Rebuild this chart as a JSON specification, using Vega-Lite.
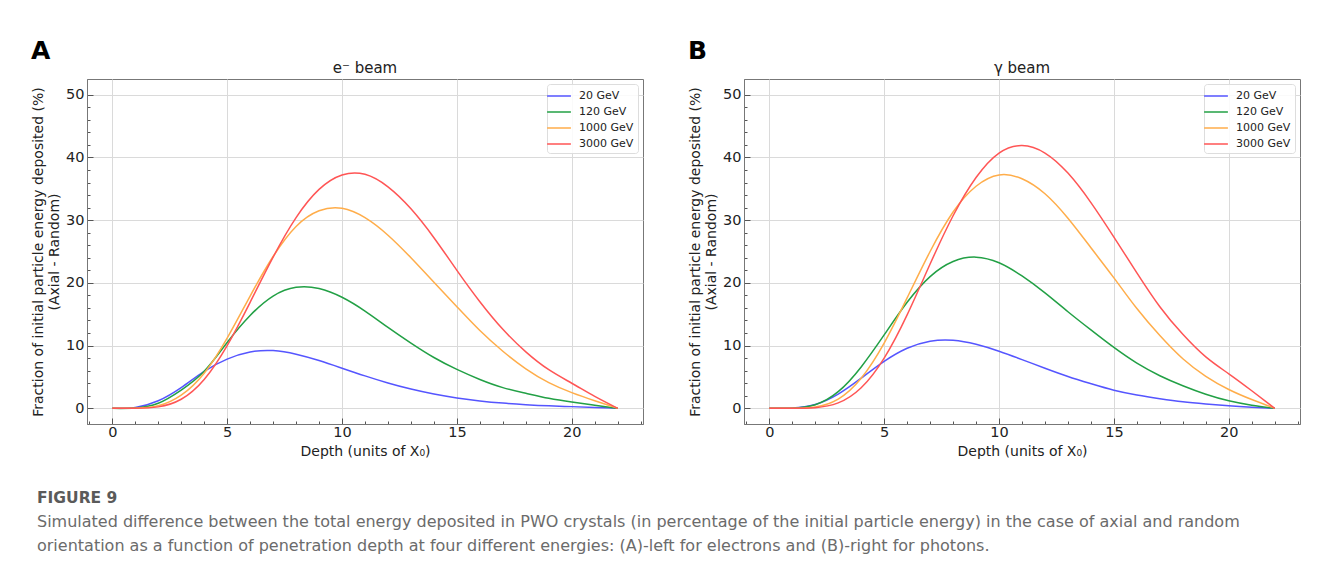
{
  "$schema": "https://vega.github.io/schema/vega-lite/v6.json",
  "background": "white",
  "padding": {"left": 31, "top": 38, "right": 0, "bottom": 0},
  "config": {
    "font": "DejaVu Sans",
    "view": {"stroke": "#777", "strokeWidth": 1},
    "axis": {
      "labelFontSize": 14.5,
      "labelColor": "#222",
      "titleFontSize": 14,
      "titleFontWeight": "normal",
      "titleColor": "#222",
      "gridColor": "#dadada",
      "gridWidth": 1,
      "tickColor": "#555",
      "domainColor": "#777",
      "labelPadding": 9,
      "labelOverlap": false,
      "labelFlush": false
    },
    "axisX": {"labelPadding": 7, "titlePadding": 3},
    "axisY": {"titlePadding": 4},
    "legend": {
      "orient": "top-right",
      "offset": 5,
      "symbolType": "M-1.7,0L1.7,0",
      "symbolSize": 196,
      "symbolStrokeWidth": 1.5,
      "labelFontSize": 11,
      "labelColor": "#222",
      "labelOffset": 12,
      "fillColor": "rgba(255,255,255,0.85)",
      "strokeColor": "#dddddd",
      "cornerRadius": 3,
      "padding": 4,
      "rowPadding": 3
    }
  },
  "vconcat": [
    {
      "hconcat": [
        {
          "title": {"text": "A", "anchor": "start", "frame": "bounds", "fontSize": 25, "fontWeight": "bold", "color": "#000", "offset": -3},
          "vconcat": [
            {
              "title": {"text": "e⁻ beam", "fontSize": 15, "fontWeight": "normal", "color": "#222", "offset": 3},
              "width": 556,
              "height": 345,
              "data": {
                "values": [
                  {"depth": 0, "20 GeV": 0, "120 GeV": 0, "1000 GeV": 0, "3000 GeV": 0},
                  {"depth": 1, "20 GeV": 0.14, "120 GeV": 0.05, "1000 GeV": 0.02, "3000 GeV": 0.01},
                  {"depth": 2, "20 GeV": 1.2, "120 GeV": 0.8, "1000 GeV": 0.4, "3000 GeV": 0.23},
                  {"depth": 3, "20 GeV": 3.3, "120 GeV": 2.9, "1000 GeV": 2.1, "3000 GeV": 1.45},
                  {"depth": 4, "20 GeV": 5.9, "120 GeV": 5.9, "1000 GeV": 5.6, "3000 GeV": 4.6},
                  {"depth": 5, "20 GeV": 7.85, "120 GeV": 10.5, "1000 GeV": 11.2, "3000 GeV": 10.0},
                  {"depth": 6, "20 GeV": 8.98, "120 GeV": 14.8, "1000 GeV": 17.9, "3000 GeV": 16.9},
                  {"depth": 7, "20 GeV": 9.2, "120 GeV": 17.9, "1000 GeV": 24.2, "3000 GeV": 24.1},
                  {"depth": 8, "20 GeV": 8.63, "120 GeV": 19.3, "1000 GeV": 29.0, "3000 GeV": 30.4},
                  {"depth": 9, "20 GeV": 7.62, "120 GeV": 19.1, "1000 GeV": 31.5, "3000 GeV": 34.9},
                  {"depth": 10, "20 GeV": 6.4, "120 GeV": 17.7, "1000 GeV": 31.9, "3000 GeV": 37.2},
                  {"depth": 11, "20 GeV": 5.17, "120 GeV": 15.5, "1000 GeV": 30.4, "3000 GeV": 37.3},
                  {"depth": 12, "20 GeV": 4.04, "120 GeV": 12.9, "1000 GeV": 27.6, "3000 GeV": 35.3},
                  {"depth": 13, "20 GeV": 3.07, "120 GeV": 10.4, "1000 GeV": 24.0, "3000 GeV": 31.8},
                  {"depth": 14, "20 GeV": 2.28, "120 GeV": 8.1, "1000 GeV": 20.1, "3000 GeV": 27.2},
                  {"depth": 15, "20 GeV": 1.66, "120 GeV": 6.2, "1000 GeV": 16.2, "3000 GeV": 22.0},
                  {"depth": 16, "20 GeV": 1.18, "120 GeV": 4.6, "1000 GeV": 12.4, "3000 GeV": 17.0},
                  {"depth": 17, "20 GeV": 0.83, "120 GeV": 3.3, "1000 GeV": 9.1, "3000 GeV": 12.6},
                  {"depth": 18, "20 GeV": 0.58, "120 GeV": 2.4, "1000 GeV": 6.3, "3000 GeV": 9.0},
                  {"depth": 19, "20 GeV": 0.39, "120 GeV": 1.6, "1000 GeV": 4.1, "3000 GeV": 6.15},
                  {"depth": 20, "20 GeV": 0.27, "120 GeV": 1.0, "1000 GeV": 2.5, "3000 GeV": 4.0},
                  {"depth": 21, "20 GeV": 0.15, "120 GeV": 0.5, "1000 GeV": 1.2, "3000 GeV": 1.9},
                  {"depth": 22, "20 GeV": 0, "120 GeV": 0, "1000 GeV": 0, "3000 GeV": 0}
                ]
              },
              "transform": [{"fold": ["20 GeV", "120 GeV", "1000 GeV", "3000 GeV"], "as": ["energy", "fraction"]}],
              "mark": {"type": "line", "interpolate": "natural", "strokeWidth": 1.5, "clip": true},
              "encoding": {
                "x": {
                  "field": "depth", "type": "quantitative",
                  "scale": {"domain": [-1.1, 23.1], "nice": false, "zero": false},
                  "axis": {
                    "title": "Depth (units of X₀)",
                    "values": [-1, 0, 1, 2, 3, 4, 5, 6, 7, 8, 9, 10, 11, 12, 13, 14, 15, 16, 17, 18, 19, 20, 21, 22, 23],
                    "labelExpr": "datum.value % 5 === 0 ? datum.label : ''",
                    "tickSize": {"condition": {"test": "datum.value % 5 === 0", "value": -6}, "value": -3},
                    "gridOpacity": {"condition": {"test": "datum.value % 5 === 0", "value": 1}, "value": 0}
                  }
                },
                "y": {
                  "field": "fraction", "type": "quantitative",
                  "scale": {"domain": [-2.5, 52.5], "nice": false, "zero": false},
                  "axis": {
                    "title": ["Fraction of initial particle energy deposited (%)", "(Axial - Random)"],
                    "titleLineHeight": 16,
                    "values": [0, 2, 4, 6, 8, 10, 12, 14, 16, 18, 20, 22, 24, 26, 28, 30, 32, 34, 36, 38, 40, 42, 44, 46, 48, 50],
                    "labelExpr": "datum.value % 10 === 0 ? datum.label : ''",
                    "tickSize": {"condition": {"test": "datum.value % 10 === 0", "value": -6}, "value": -3},
                    "gridOpacity": {"condition": {"test": "datum.value % 10 === 0", "value": 1}, "value": 0}
                  }
                },
                "color": {
                  "field": "energy", "type": "nominal",
                  "scale": {"domain": ["20 GeV", "120 GeV", "1000 GeV", "3000 GeV"], "range": ["#5555ff", "#22a045", "#ffad4a", "#ff5555"]},
                  "legend": {"title": null}
                }
              }
            }
          ],
          "resolve": {"legend": {"color": "independent"}, "scale": {"color": "independent"}}
        },
        {
          "title": {"text": "B", "anchor": "start", "frame": "bounds", "fontSize": 25, "fontWeight": "bold", "color": "#000", "offset": -3},
          "vconcat": [
            {
              "title": {"text": "γ beam", "fontSize": 15, "fontWeight": "normal", "color": "#222", "offset": 3},
              "width": 556,
              "height": 345,
              "data": {
                "values": [
                  {"depth": 0, "20 GeV": 0, "120 GeV": 0, "1000 GeV": 0, "3000 GeV": 0},
                  {"depth": 1, "20 GeV": 0.04, "120 GeV": 0.03, "1000 GeV": 0.01, "3000 GeV": 0.0},
                  {"depth": 2, "20 GeV": 0.61, "120 GeV": 0.58, "1000 GeV": 0.22, "3000 GeV": 0.1},
                  {"depth": 3, "20 GeV": 2.26, "120 GeV": 2.65, "1000 GeV": 1.48, "3000 GeV": 0.86},
                  {"depth": 4, "20 GeV": 4.8, "120 GeV": 6.6, "1000 GeV": 4.8, "3000 GeV": 3.27},
                  {"depth": 5, "20 GeV": 7.48, "120 GeV": 11.7, "1000 GeV": 10.4, "3000 GeV": 8.0},
                  {"depth": 6, "20 GeV": 9.57, "120 GeV": 16.9, "1000 GeV": 17.6, "3000 GeV": 14.9},
                  {"depth": 7, "20 GeV": 10.7, "120 GeV": 21.0, "1000 GeV": 25.0, "3000 GeV": 23.0},
                  {"depth": 8, "20 GeV": 10.85, "120 GeV": 23.4, "1000 GeV": 31.3, "3000 GeV": 30.7},
                  {"depth": 9, "20 GeV": 10.2, "120 GeV": 24.1, "1000 GeV": 35.4, "3000 GeV": 36.8},
                  {"depth": 10, "20 GeV": 9.1, "120 GeV": 23.2, "1000 GeV": 37.2, "3000 GeV": 40.7},
                  {"depth": 11, "20 GeV": 7.77, "120 GeV": 21.1, "1000 GeV": 36.6, "3000 GeV": 41.9},
                  {"depth": 12, "20 GeV": 6.38, "120 GeV": 18.4, "1000 GeV": 34.2, "3000 GeV": 40.7},
                  {"depth": 13, "20 GeV": 5.07, "120 GeV": 15.4, "1000 GeV": 30.3, "3000 GeV": 37.5},
                  {"depth": 14, "20 GeV": 3.93, "120 GeV": 12.5, "1000 GeV": 25.6, "3000 GeV": 32.8},
                  {"depth": 15, "20 GeV": 2.89, "120 GeV": 9.7, "1000 GeV": 20.8, "3000 GeV": 27.3},
                  {"depth": 16, "20 GeV": 2.13, "120 GeV": 7.2, "1000 GeV": 15.9, "3000 GeV": 21.6},
                  {"depth": 17, "20 GeV": 1.54, "120 GeV": 5.2, "1000 GeV": 11.6, "3000 GeV": 16.2},
                  {"depth": 18, "20 GeV": 1.04, "120 GeV": 3.6, "1000 GeV": 7.9, "3000 GeV": 11.8},
                  {"depth": 19, "20 GeV": 0.69, "120 GeV": 2.25, "1000 GeV": 5.1, "3000 GeV": 8.2},
                  {"depth": 20, "20 GeV": 0.4, "120 GeV": 1.2, "1000 GeV": 3.0, "3000 GeV": 5.5},
                  {"depth": 21, "20 GeV": 0.18, "120 GeV": 0.5, "1000 GeV": 1.4, "3000 GeV": 2.8},
                  {"depth": 22, "20 GeV": 0, "120 GeV": 0, "1000 GeV": 0, "3000 GeV": 0}
                ]
              },
              "transform": [{"fold": ["20 GeV", "120 GeV", "1000 GeV", "3000 GeV"], "as": ["energy", "fraction"]}],
              "mark": {"type": "line", "interpolate": "natural", "strokeWidth": 1.5, "clip": true},
              "encoding": {
                "x": {
                  "field": "depth", "type": "quantitative",
                  "scale": {"domain": [-1.1, 23.1], "nice": false, "zero": false},
                  "axis": {
                    "title": "Depth (units of X₀)",
                    "values": [-1, 0, 1, 2, 3, 4, 5, 6, 7, 8, 9, 10, 11, 12, 13, 14, 15, 16, 17, 18, 19, 20, 21, 22, 23],
                    "labelExpr": "datum.value % 5 === 0 ? datum.label : ''",
                    "tickSize": {"condition": {"test": "datum.value % 5 === 0", "value": -6}, "value": -3},
                    "gridOpacity": {"condition": {"test": "datum.value % 5 === 0", "value": 1}, "value": 0}
                  }
                },
                "y": {
                  "field": "fraction", "type": "quantitative",
                  "scale": {"domain": [-2.5, 52.5], "nice": false, "zero": false},
                  "axis": {
                    "title": ["Fraction of initial particle energy deposited (%)", "(Axial - Random)"],
                    "titleLineHeight": 16,
                    "values": [0, 2, 4, 6, 8, 10, 12, 14, 16, 18, 20, 22, 24, 26, 28, 30, 32, 34, 36, 38, 40, 42, 44, 46, 48, 50],
                    "labelExpr": "datum.value % 10 === 0 ? datum.label : ''",
                    "tickSize": {"condition": {"test": "datum.value % 10 === 0", "value": -6}, "value": -3},
                    "gridOpacity": {"condition": {"test": "datum.value % 10 === 0", "value": 1}, "value": 0}
                  }
                },
                "color": {
                  "field": "energy", "type": "nominal",
                  "scale": {"domain": ["20 GeV", "120 GeV", "1000 GeV", "3000 GeV"], "range": ["#5555ff", "#22a045", "#ffad4a", "#ff5555"]},
                  "legend": {"title": null}
                }
              }
            }
          ],
          "resolve": {"legend": {"color": "independent"}, "scale": {"color": "independent"}}
        }
      ],
      "spacing": 44,
      "resolve": {"legend": {"color": "independent"}, "scale": {"color": "independent"}}
    },
    {
      "width": 1250,
      "height": 10,
      "view": {"stroke": null},
      "data": {"values": [{}]},
      "mark": {"type": "point", "opacity": 0},
      "title": {
        "text": "FIGURE 9",
        "subtitle": [
          "Simulated difference between the total energy deposited in PWO crystals (in percentage of the initial particle energy) in the case of axial and random",
          "orientation as a function of penetration depth at four different energies: (A)-left for electrons and (B)-right for photons."
        ],
        "anchor": "start",
        "frame": "group",
        "dx": -50,
        "font": "DejaVu Sans",
        "fontSize": 15.5,
        "fontWeight": "bold",
        "color": "#5a5a5a",
        "subtitleFont": "DejaVu Sans",
        "subtitleFontSize": 16,
        "subtitleColor": "#6b6b6b",
        "subtitleLineHeight": 24,
        "subtitlePadding": 8
      }
    }
  ],
  "spacing": 31,
  "resolve": {"legend": {"color": "independent"}, "scale": {"color": "independent"}}
}
